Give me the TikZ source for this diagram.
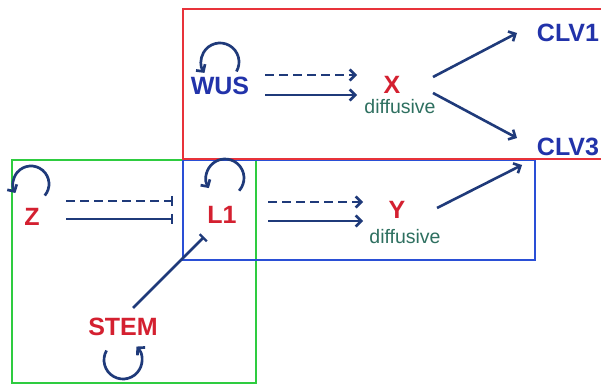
\documentclass[tikz,border=0pt]{standalone}
\usepackage{fontspec}
\setmainfont{Liberation Sans}
\usetikzlibrary{arrows.meta}
\definecolor{txtblue}{HTML}{2233AA}
\definecolor{txtred}{HTML}{D42030}
\definecolor{difcol}{HTML}{2E7060}
\definecolor{arrcol}{HTML}{1F3A7A}
\definecolor{boxred}{HTML}{E8323A}
\definecolor{boxgreen}{HTML}{2ECC40}
\definecolor{boxblue}{HTML}{2A4FD6}
\tikzset{
  gene/.style={inner sep=0pt, font=\fontsize{25}{25}\selectfont\bfseries},
  bluegene/.style={gene, text=txtblue},
  redgene/.style={gene, text=txtred},
  diflbl/.style={inner sep=0pt, text=difcol, font=\fontsize{19.5}{19.5}\selectfont},
  act/.style={draw=arrcol, line width=2.6pt, -{Straight Barb[length=5.5pt,width=11pt]}},
  inh/.style={draw=arrcol, line width=2.6pt, -{Bar[width=10pt,line width=2.2pt]}},
  dsh/.style={dash pattern=on 8.5pt off 5.5pt},
  selfloop/.style={draw=arrcol, line width=2.7pt, -{Straight Barb[length=5pt,width=11pt]}},
  region/.style={line width=1.8pt}
}
\begin{document}
\begin{tikzpicture}[x=1pt,y=1pt]
\useasboundingbox (0,0) rectangle (601,385);
\fill[white] (0,0) rectangle (601,385);
% boxes
\draw[region, boxgreen] (12,2) rectangle (256,225);
\draw[region, boxblue] (183,125) rectangle (535,225);
\draw[region, boxred] (620,226) -- (183,226) -- (183,376) -- (620,376);
% nodes
\node[bluegene] (wus) at (220,299) {WUS};
\node[redgene] (x) at (392,300) {X};
\node[diflbl] (diffx) at (400,278) {diffusive};
\node[bluegene] (clv1) at (568,352) {CLV1};
\node[bluegene] (clv3) at (568,238) {CLV3};
\node[redgene] (z) at (32,168) {Z};
\node[redgene] (l1) at (222,170) {L1};
\node[redgene] (y) at (397,175) {Y};
\node[diflbl] (diffy) at (405,148) {diffusive};
\node[redgene] (stem) at (123,58) {STEM};
% loop centres
\coordinate (wusc) at ([shift={(0,24)}]wus.center);
\coordinate (zc) at ([shift={(-1,33)}]z.center);
\coordinate (l1c) at ([shift={(3,37)}]l1.center);
\coordinate (stemc) at ([shift={(0,-33)}]stem.center);
% self loops
\draw[selfloop] ([shift={(-30:19pt)}]wusc) arc[start angle=-30, end angle=215, radius=19pt];
\draw[selfloop] ([shift={(-40:18pt)}]zc) arc[start angle=-40, end angle=210, radius=18pt];
\draw[selfloop] ([shift={(-42:19pt)}]l1c) arc[start angle=-42, end angle=212, radius=19pt];
\draw[selfloop] ([shift={(150:19pt)}]stemc) arc[start angle=150, end angle=405, radius=19pt];
% WUS -> X
\draw[act, dsh] ([shift={(45,11)}]wus.center) -- ([shift={(-35,10)}]x.center);
\draw[act] ([shift={(45,-9)}]wus.center) -- ([shift={(-35,-10)}]x.center);
% X -> CLV1, CLV3
\draw[act] ([shift={(41,8)}]x.center) -- ([shift={(-51,0)}]clv1.center);
\draw[act] ([shift={(41,-8)}]x.center) -- ([shift={(-51,9)}]clv3.center);
% Z -| L1
\draw[inh, dsh] ([shift={(34,16)}]z.center) -- ([shift={(-49,14)}]l1.center);
\draw[inh] ([shift={(34,-2)}]z.center) -- ([shift={(-49,-4)}]l1.center);
% L1 -> Y
\draw[act, dsh] ([shift={(46,13)}]l1.center) -- ([shift={(-34,8)}]y.center);
\draw[act] ([shift={(46,-6)}]l1.center) -- ([shift={(-34,-11)}]y.center);
% Y -> CLV3
\draw[act] ([shift={(40,2)}]y.center) -- ([shift={(-46,-18)}]clv3.center);
% STEM -| L1
\draw[inh] ([shift={(10,19)}]stem.center) -- ([shift={(-18,-22)}]l1.center);
\end{tikzpicture}
\end{document}
